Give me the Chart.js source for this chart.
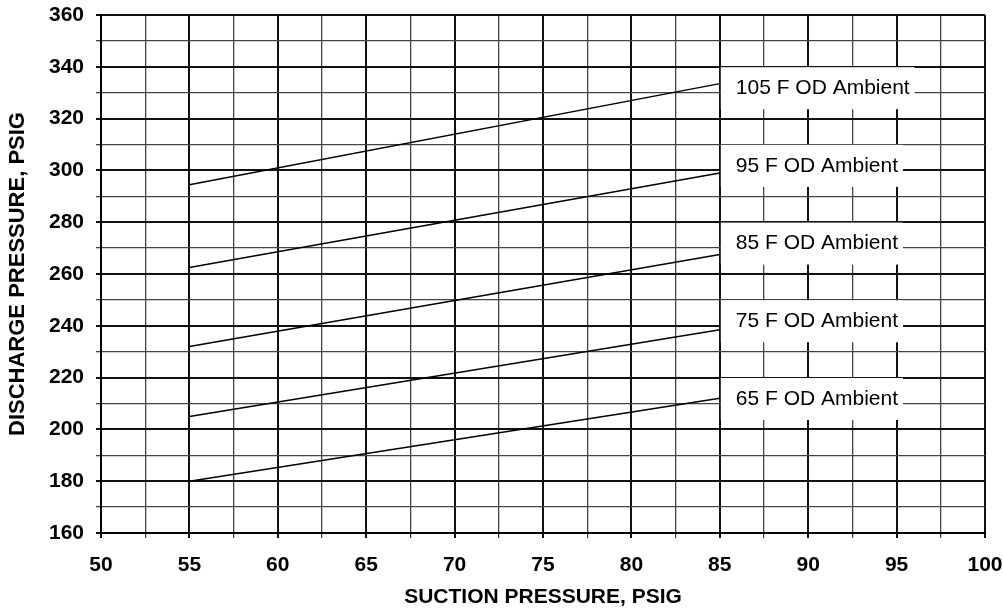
<!DOCTYPE html>
<html>
<head>
<meta charset="utf-8">
<script src="https://cdn.jsdelivr.net/npm/chart.js@4.4.1/dist/chart.umd.min.js"></script>
<style>
  html, body { margin: 0; padding: 0; background: #fff; }
  #wrap { width: 1003px; height: 608px; }
</style>
</head>
<body>
<div id="wrap"><canvas id="chart" width="1003" height="608"></canvas></div>
<script>
// suction pressure end points of every curve
const suction = [55, 85];

// discharge pressure at 55 and 85 psig suction
const ambient65 = [180, 212];
const ambient75 = [205, 238.5];
const ambient85 = [232, 267.5];
const ambient95 = [262.5, 299];
const ambient105 = [294.5, 333.5];

const seriesNames = ["65 F OD Ambient", "75 F OD Ambient", "85 F OD Ambient", "95 F OD Ambient", "105 F OD Ambient"];
const seriesValues = [ambient65, ambient75, ambient85, ambient95, ambient105];
// grid line each label sits on
const labelAt = [210, 240, 270, 300, 330];

const xTitle = "SUCTION PRESSURE, PSIG";
const yTitle = "DISCHARGE PRESSURE, PSIG";

const FONT = "Arial, 'Liberation Sans', Helvetica, sans-serif";

const datasets = seriesValues.map((vals, i) => ({
  label: seriesNames[i],
  data: vals.map((v, j) => ({ x: suction[j], y: v })),
  borderColor: "#000",
  borderWidth: 1.5,
  pointRadius: 0,
  fill: false,
  tension: 0
}));

// white boxed labels at the end of each curve
const curveLabels = {
  id: "curveLabels",
  afterDatasetsDraw(chart) {
    const { ctx, scales: { x, y } } = chart;
    const endX = x.getPixelForValue(suction[suction.length - 1]);
    ctx.save();
    ctx.font = "21px " + FONT;
    ctx.textBaseline = "middle";
    ctx.textAlign = "left";
    seriesNames.forEach((name, i) => {
      const cy = y.getPixelForValue(labelAt[i]) - 4.5;
      const tx = endX + 16;
      const w = ctx.measureText(name).width;
      ctx.fillStyle = "#fff";
      ctx.fillRect(endX + 1, cy - 21, tx + w + 5 - (endX + 1), 42);
      ctx.fillStyle = "#000";
      ctx.fillText(name, tx, cy);
    });
    ctx.restore();
  }
};

new Chart(document.getElementById("chart"), {
  type: "line",
  data: { datasets },
  plugins: [curveLabels],
  options: {
    responsive: false,
    animation: false,
    layout: { padding: 0 },
    plugins: {
      legend: { display: false },
      tooltip: { enabled: false }
    },
    scales: {
      x: {
        type: "linear",
        min: 50,
        max: 100,
        afterFit: s => { s.height = 75; s.paddingLeft = 0; s.paddingRight = 18; },
        border: { color: "#000", width: 2 },
        grid: {
          color: c => (c.tick && c.tick.value % 5 === 0) ? "#111" : "#444",
          lineWidth: c => (c.tick && c.tick.value % 5 === 0) ? 2 : 1.3,
          tickLength: 5
        },
        ticks: {
          stepSize: 2.5,
          autoSkip: false,
          maxRotation: 0,
          padding: 15,
          color: "#000",
          font: { family: FONT, size: 21, weight: "bold" },
          callback: v => (v % 5 === 0 ? String(v) : "")
        },
        title: {
          display: true,
          text: xTitle,
          color: "#000",
          padding: { top: 0, bottom: -2 },
          font: { family: FONT, size: 21, weight: "bold" }
        }
      },
      y: {
        type: "linear",
        min: 160,
        max: 360,
        afterFit: s => { s.width = 101; s.paddingTop = 15; s.paddingBottom = 0; },
        border: { color: "#000", width: 2 },
        grid: {
          color: c => (c.tick && c.tick.value % 20 === 0) ? "#111" : "#444",
          lineWidth: c => (c.tick && c.tick.value % 20 === 0) ? 2 : 1.3,
          tickLength: 5
        },
        ticks: {
          stepSize: 10,
          autoSkip: false,
          padding: 12,
          color: "#000",
          font: { family: FONT, size: 21, weight: "bold" },
          callback: v => (v % 20 === 0 ? String(v) : "")
        },
        title: {
          display: true,
          text: yTitle,
          color: "#000",
          padding: { top: 5, bottom: 0 },
          font: { family: FONT, size: 22, weight: "bold" }
        }
      }
    }
  }
});
</script>
</body>
</html>
